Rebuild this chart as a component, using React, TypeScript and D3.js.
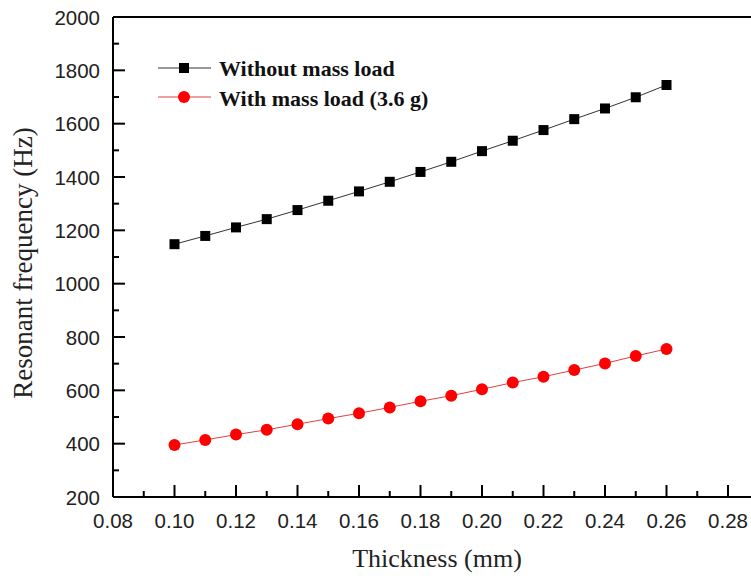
import React from "react";
import * as d3 from "d3";

const thickness = [0.10, 0.11, 0.12, 0.13, 0.14, 0.15, 0.16, 0.17, 0.18, 0.19, 0.20, 0.21, 0.22, 0.23, 0.24, 0.25, 0.26];
const withoutLoad = [1148, 1179, 1211, 1242, 1276, 1311, 1346, 1382, 1419, 1457, 1497, 1536, 1576, 1617, 1657, 1699, 1745];
const withLoad = [395, 414, 434, 452, 473, 494, 514, 536, 559, 580, 604, 629, 651, 676, 701, 729, 755];
const xTicks = [0.08, 0.10, 0.12, 0.14, 0.16, 0.18, 0.20, 0.22, 0.24, 0.26, 0.28];
const xMinor = [0.09, 0.11, 0.13, 0.15, 0.17, 0.19, 0.21, 0.23, 0.25, 0.27, 0.29];
const yTicks = [200, 400, 600, 800, 1000, 1200, 1400, 1600, 1800, 2000];
const yMinor = [300, 500, 700, 900, 1100, 1300, 1500, 1700, 1900];
const legendLabels = ["Without mass load", "With mass load (3.6 g)"];

export default function App() {
  const W = 751, H = 579;
  const left = 113, top = 17, bottom = 497;
  const x = d3.scaleLinear().domain([0.08, 0.28]).range([left, 728]);
  const y = d3.scaleLinear().domain([200, 2000]).range([bottom, top]);
  const line = d3.line<number>().x((_, i) => x(thickness[i])).y((d) => y(d));
  const sans = "'Liberation Sans', Arial, sans-serif";
  const serif = "'Liberation Serif', 'Times New Roman', serif";
  return (
    <svg width={W} height={H} style={{ position: "absolute", left: 0, top: 0, background: "#fff" }}>
      <rect width={W} height={H} fill="#fff" />
      {/* axes */}
      <line x1={left} x2={W} y1={top} y2={top} stroke="#000" strokeWidth={2} />
      <line x1={left} x2={left} y1={top} y2={bottom} stroke="#000" strokeWidth={2} />
      <line x1={left} x2={W} y1={bottom} y2={bottom} stroke="#000" strokeWidth={2} />
      {xTicks.map((t) => (
        <g key={"xt" + t}>
          <line x1={x(t)} x2={x(t)} y1={bottom} y2={bottom - 12} stroke="#000" strokeWidth={2} />
          <text x={x(t)} y={528} fontFamily={sans} fontSize={20.5} textAnchor="middle" fill="#222">{t.toFixed(2)}</text>
        </g>
      ))}
      {xMinor.map((t) => (
        <line key={"xm" + t} x1={x(t)} x2={x(t)} y1={bottom} y2={bottom - 6} stroke="#000" strokeWidth={2} />
      ))}
      {yTicks.map((t) => (
        <g key={"yt" + t}>
          <line x1={left} x2={left + 12} y1={y(t)} y2={y(t)} stroke="#000" strokeWidth={2} />
          <text x={100} y={y(t) + 7.5} fontFamily={sans} fontSize={20.5} textAnchor="end" fill="#222">{t}</text>
        </g>
      ))}
      {yMinor.map((t) => (
        <line key={"ym" + t} x1={left} x2={left + 6} y1={y(t)} y2={y(t)} stroke="#000" strokeWidth={2} />
      ))}
      {/* series */}
      <path d={line(withoutLoad) || ""} fill="none" stroke="#333" strokeWidth={1} />
      <path d={line(withLoad) || ""} fill="none" stroke="#e04040" strokeWidth={1} />
      {withoutLoad.map((v, i) => (
        <rect key={"s" + i} x={x(thickness[i]) - 5} y={y(v) - 5} width={10} height={10} fill="#000" />
      ))}
      {withLoad.map((v, i) => (
        <circle key={"c" + i} cx={x(thickness[i])} cy={y(v)} r={6} fill="#ff0000" />
      ))}
      {/* legend */}
      <line x1={158} x2={211} y1={68} y2={68} stroke="#333" strokeWidth={1} />
      <rect x={179} y={63} width={10} height={10} fill="#000" />
      <text x={219} y={76} fontFamily={serif} fontWeight="bold" fontSize={22} fill="#111">{legendLabels[0]}</text>
      <line x1={158} x2={211} y1={97} y2={97} stroke="#e04040" strokeWidth={1} />
      <circle cx={184} cy={97} r={6} fill="#ff0000" />
      <text x={219} y={105.5} fontFamily={serif} fontWeight="bold" fontSize={22} fill="#111">{legendLabels[1]}</text>
      {/* titles */}
      <text x={437} y={567} fontFamily={serif} fontSize={26} textAnchor="middle" fill="#222">Thickness (mm)</text>
      <text transform="translate(32,263) rotate(-90)" fontFamily={serif} fontSize={27} textAnchor="middle" fill="#222">Resonant frequency (Hz)</text>
    </svg>
  );
}
